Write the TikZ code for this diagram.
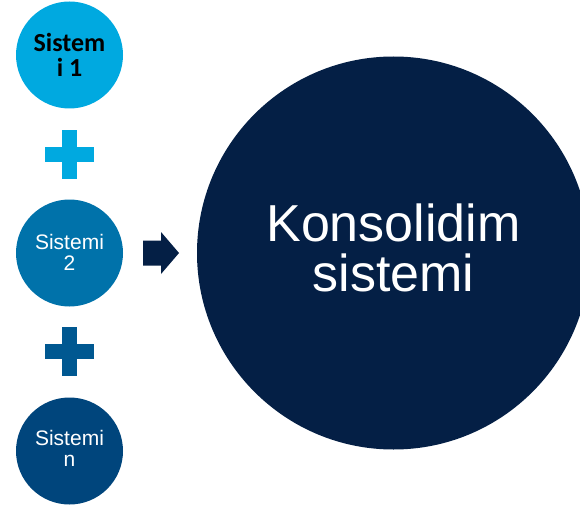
\documentclass[tikz,border=0pt]{standalone}
\usepackage{fontspec}
\setmainfont{Liberation Sans}
\newfontfamily\calibrifont{Carlito}
\definecolor{cyanA}{RGB}{0,169,224}
\definecolor{blueB}{RGB}{0,114,170}
\definecolor{blueP}{RGB}{0,88,145}
\definecolor{blueC}{RGB}{0,69,124}
\definecolor{navy}{RGB}{4,31,69}
\begin{document}
\begin{tikzpicture}[x=1pt,y=1pt,
  sysnode/.style={circle, minimum size=107pt, inner sep=0pt, draw=none},
  smalltext/.style={text=white, align=center, font=\fontsize{21}{21}\selectfont}]
\clip (0,0) rectangle (580,504);
\fill[white] (0,0) rectangle (580,504);
% circles
\node[sysnode, fill=cyanA] (s1) at (69.5,449) {};
\node[sysnode, fill=blueB] (s2) at (69.5,251) {};
\node[sysnode, fill=blueC] (sn) at (69.5,53) {};
\node[circle, minimum size=393pt, inner sep=0pt, fill=navy] (big) at (393.5,251) {};
% texts
\node[align=center, text=black, font=\calibrifont\bfseries\fontsize{26}{25.5}\selectfont] (t1) at (s1.center) {Sistem\\i 1};
\node[smalltext] (t2) at ([yshift=1pt]s2.center) {Sistemi\\2};
\node[smalltext] (tn) at ([yshift=3pt]sn.center) {Sistemi\\n};
\node[align=center, text=white, font=\fontsize{52}{50}\selectfont] (tb) at ([yshift=4.7pt]big.center) {Konsolidim\\sistemi};
% plus signs
\coordinate (p1) at (69.5,349.5);
\coordinate (p2) at (69.5,152.5);
\fill[cyanA] ([shift={(-7.5,-24.5)}]p1) rectangle ([shift={(7.5,24.5)}]p1);
\fill[cyanA] ([shift={(-24.5,-7.5)}]p1) rectangle ([shift={(24.5,7.5)}]p1);
\fill[blueP] ([shift={(-7.5,-24.5)}]p2) rectangle ([shift={(7.5,24.5)}]p2);
\fill[blueP] ([shift={(-24.5,-7.5)}]p2) rectangle ([shift={(24.5,7.5)}]p2);
% arrow
\coordinate (ar) at (143,251);
\fill[navy] ([shift={(0,-12.5)}]ar) -- ([shift={(18,-12.5)}]ar) -- ([shift={(18,-21)}]ar)
  -- ([shift={(36,0)}]ar) -- ([shift={(18,21)}]ar) -- ([shift={(18,12.5)}]ar)
  -- ([shift={(0,12.5)}]ar) -- cycle;
\end{tikzpicture}
\end{document}
